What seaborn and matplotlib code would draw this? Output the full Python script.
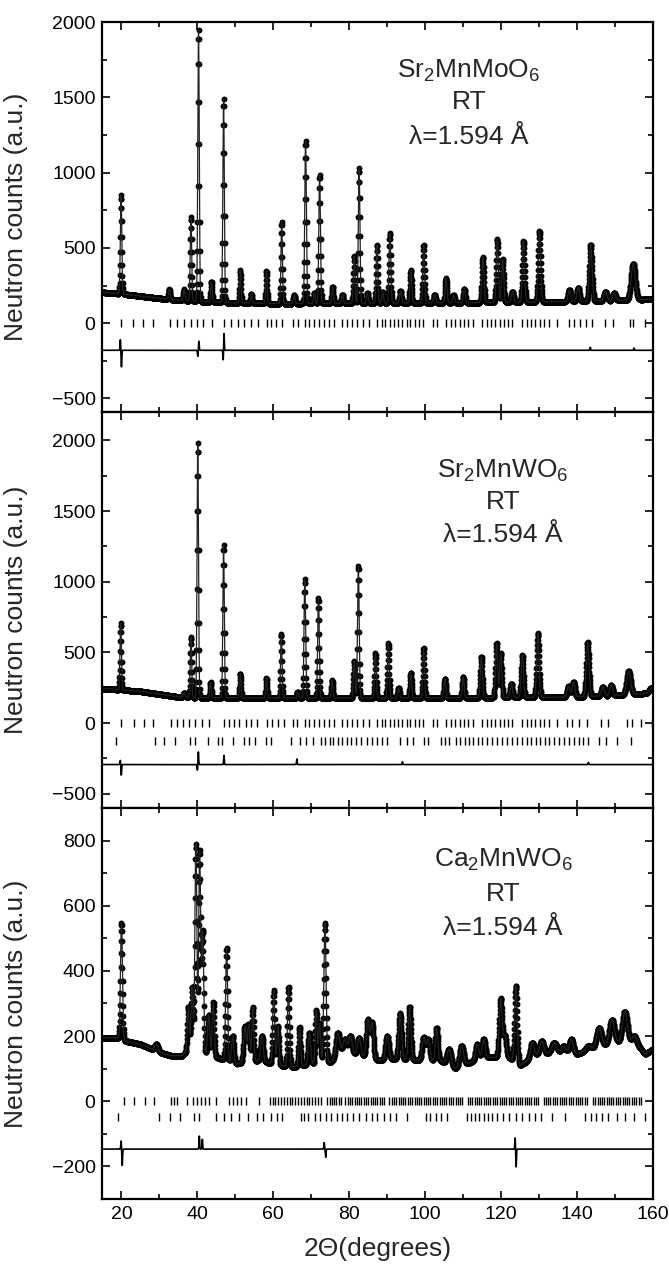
import numpy as np
import pandas as pd
import matplotlib
matplotlib.use("Agg")
import matplotlib.pyplot as plt
import seaborn as sns
from matplotlib.ticker import MultipleLocator

# ---------------- Sr2MnMoO6 ----------------
mo_bg_pos = [15, 20, 25, 30, 35, 40, 50, 60, 80, 100, 120, 140, 150, 160]
mo_bg_val = [205, 195, 180, 165, 152, 145, 135, 130, 132, 135, 138, 145, 150, 160]
mo_peak_pos = [19.9, 32.6, 36.5, 38.3, 40.3, 43.7, 46.9, 51.3, 54.2, 58.2, 62.2, 65.5, 68.5,
               70.8, 72.2, 75.6, 78.2, 81.3, 82.6, 84.8, 87.3, 88.8, 90.7, 93.5, 96.2, 99.6,
               102.5, 105.5, 107.5, 110.3, 115.2, 119.0, 120.4, 123.0, 125.9, 130.1, 138.0,
               140.3, 143.6, 147.5, 149.8, 154.8]
mo_peak_top = [850, 225, 225, 705, 1950, 275, 1490, 350, 195, 345, 670, 190, 1210,
               200, 985, 240, 190, 445, 1030, 200, 520, 210, 598, 215, 350, 520,
               190, 297, 185, 228, 440, 562, 427, 210, 548, 612, 222,
               236, 522, 210, 200, 395]
mo_peak_fwhm = [0.45, 0.5, 0.5, 0.45, 0.45, 0.45, 0.45, 0.45, 0.45, 0.45, 0.45, 0.5, 0.5,
                0.5, 0.5, 0.5, 0.5, 0.5, 0.5, 0.5, 0.5, 0.5, 0.55, 0.55, 0.55, 0.55,
                0.6, 0.6, 0.6, 0.6, 0.65, 0.65, 0.65, 0.7, 0.7, 0.75, 0.8,
                0.8, 0.85, 0.9, 0.9, 1.3]
mo_bragg = [19.9, 23.1, 25.8, 28.4, 32.8, 34.7, 36.5, 38.3, 39.8, 41.6, 43.8, 47.1, 48.8,
            50.6, 52.3, 54.1, 55.9, 58.3, 59.4, 60.7, 62.3, 65.1, 66.4, 68.4, 69.5, 70.8,
            72.1, 73.3, 74.6, 75.9, 78.1, 79.4, 80.8, 82.1, 83.6, 85.1, 87.3, 88.5, 89.5,
            90.7, 91.7, 92.9, 93.9, 95.1, 96.1, 97.3, 98.3, 99.5, 102.0, 103.2, 105.6,
            106.8, 107.9, 109.1, 110.2, 111.4, 112.5, 115.0, 116.2, 117.3, 118.5, 119.6,
            120.8, 121.9, 123.0, 125.6, 126.7, 127.9, 129.0, 130.2, 131.3, 132.6, 134.8,
            137.9, 139.2, 140.7, 142.3, 143.9, 147.4, 149.5, 154.0, 154.8, 158.0]
mo_diff_level = -180
mo_diff_pos = [19.7, 20.0, 40.1, 40.4, 46.8, 47.0, 143.5, 155.0]
mo_diff_amp = [70, -110, -40, 60, -70, 115, 20, 15]

# ---------------- Sr2MnWO6 ----------------
w_bg_pos = [15, 20, 25, 30, 35, 40, 60, 100, 140, 150, 160]
w_bg_val = [245, 235, 225, 205, 185, 180, 178, 178, 185, 195, 215]
w_peak_pos = [19.8, 36.5, 38.3, 40.1, 43.5, 46.9, 51.3, 58.2, 62.1, 66.4, 68.3, 71.9, 75.5,
              81.3, 82.4, 86.9, 90.3, 93.0, 96.2, 99.6, 105.2, 110.0, 114.8, 118.8, 119.9,
              122.7, 125.6, 129.7, 137.8, 139.1, 142.8, 146.8, 149.0, 153.6, 159.6]
w_peak_top = [705, 215, 612, 1980, 290, 1260, 350, 320, 631, 220, 1017, 886, 302,
              440, 1112, 493, 564, 250, 357, 529, 314, 326, 469, 564, 493,
              279, 481, 636, 260, 290, 571, 255, 267, 367, 250]
w_peak_fwhm = [0.45, 0.5, 0.45, 0.45, 0.45, 0.45, 0.45, 0.45, 0.45, 0.5, 0.5, 0.5, 0.5,
               0.5, 0.5, 0.5, 0.55, 0.55, 0.55, 0.55, 0.6, 0.6, 0.65, 0.65, 0.65,
               0.7, 0.7, 0.75, 0.9, 0.8, 0.85, 0.9, 0.9, 1.2, 1.2]
w_bragg_main = [19.8, 23.2, 26.0, 28.2, 33.0, 34.5, 36.1, 37.8, 39.5, 41.2, 43.1, 46.9, 48.2,
                49.7, 51.0, 52.7, 54.2, 55.6, 58.4, 59.7, 61.2, 62.7, 65.2, 66.3, 68.4, 69.5,
                70.8, 72.1, 73.3, 74.6, 75.9, 78.1, 79.4, 80.8, 82.1, 83.6, 85.1, 87.3, 88.5,
                89.5, 90.7, 91.7, 92.9, 93.9, 95.1, 96.1, 97.3, 98.3, 99.5, 102.0, 103.2,
                105.6, 106.8, 107.9, 109.1, 110.2, 111.4, 112.5, 115.0, 116.2, 117.3, 118.5,
                119.6, 120.8, 121.9, 123.0, 125.6, 126.7, 127.9, 129.0, 130.2, 131.3, 132.6,
                134.8, 137.4, 138.8, 140.4, 142.5, 146.4, 148.1, 153.2, 154.4, 156.8, 159.8]
w_bragg_second = [18.5, 28.8, 31.3, 34.1, 38.1, 39.5, 42.9, 45.4, 46.5, 49.4, 52.2, 53.5, 55.3,
                  58.0, 59.5, 64.6, 66.9, 68.5, 70.5, 72.5, 73.6, 74.8, 75.7, 77.0, 78.1, 79.3,
                  80.4, 81.8, 83.2, 84.7, 86.0, 87.2, 88.6, 90.0, 93.4, 95.1, 96.8, 99.6, 100.7,
                  104.1, 105.2, 106.4, 108.1, 109.2, 110.4, 111.5, 112.6, 113.8, 115.0, 116.4,
                  117.6, 118.9, 120.2, 121.5, 122.9, 124.3, 125.5, 126.7, 127.9, 129.1, 130.3,
                  131.5, 132.7, 134.0, 135.3, 136.7, 138.0, 139.2, 140.4, 141.6, 143.0, 145.8,
                  147.6, 150.4, 154.1]
w_diff_level = -293
w_diff_pos = [19.7, 19.95, 40.0, 40.25, 47.0, 66.2, 94.0, 143.0]
w_diff_amp = [30, -75, -40, 90, 65, 40, 20, 15]

# ---------------- Ca2MnWO6 ----------------
ca_bg_pos = [15, 19, 21, 25, 28, 30, 33, 36, 38, 45, 50, 56, 62, 65, 68, 75, 80, 88, 92,
             98, 104, 108, 112, 117, 122, 125, 130, 135, 140, 144, 150, 155, 158, 160]
ca_bg_val = [195, 195, 185, 175, 160, 150, 140, 140, 160, 135, 115, 125, 110, 105, 110, 120,
             150, 125, 130, 125, 125, 100, 120, 135, 135, 110, 145, 150, 145, 160, 180, 185,
             145, 160]
ca_peak_pos = [20.0, 29.2, 37.6, 38.6, 39.6, 40.6, 41.4, 43.0, 44.2, 47.7, 49.3, 52.5, 53.5,
               54.6, 57.0, 60.1, 61.2, 64.0, 66.9, 69.5, 71.3, 72.2, 73.6, 77.0, 78.8, 80.3,
               82.6, 84.9, 86.0, 90.0, 93.4, 95.9, 99.6, 100.8, 103.0, 106.3, 109.6, 113.7,
               115.4, 119.9, 121.0, 123.9, 128.2, 130.7, 134.0, 136.5, 138.5, 143.0, 145.8,
               149.2, 152.6, 155.2]
ca_peak_top = [548, 175, 290, 350, 790, 767, 520, 265, 305, 470, 200, 230, 235,
               290, 200, 340, 230, 352, 228, 210, 280, 240, 548, 210, 190, 200,
               195, 250, 240, 200, 270, 290, 195, 190, 225, 160, 170, 175,
               190, 315, 200, 355, 180, 185, 180, 170, 190, 170, 225,
               250, 275, 200]
ca_peak_fwhm = [0.6, 1.0, 0.6, 0.6, 0.6, 0.6, 0.6, 0.7, 0.6, 0.6, 0.7, 0.8, 0.7,
                0.6, 0.8, 0.6, 0.6, 0.6, 0.6, 0.8, 0.6, 0.6, 0.7, 1.2, 1.2, 1.0,
                1.0, 0.9, 0.9, 1.0, 0.9, 0.8, 1.0, 1.0, 0.8, 1.2, 1.2, 1.0,
                1.0, 0.9, 0.9, 0.8, 1.2, 1.2, 1.5, 1.2, 1.2, 1.5, 1.5,
                1.5, 1.5, 1.2]
ca_bragg_main = [20.6, 23.4, 26.2, 28.7, 33.0, 33.8, 34.7, 37.2, 38.9, 40.0, 40.9, 42.0, 43.1,
                 44.8, 48.2, 49.4, 50.5, 51.6, 52.7, 56.1, 59.0, 59.8, 60.5, 61.3, 62.0, 62.8,
                 63.5, 64.3, 65.0, 65.8, 66.5, 67.3, 68.0, 68.8, 69.5, 70.3, 71.0, 71.8, 72.6,
                 74.2, 74.8, 75.4, 76.0, 76.6, 77.2, 77.8, 79.0, 79.6, 80.2, 80.8, 81.4, 82.0,
                 82.6, 83.2, 83.8, 84.4, 85.0, 85.6, 86.2, 86.8, 87.4, 88.0, 88.6, 89.2, 90.6,
                 91.2, 91.8, 92.4, 93.0, 93.6, 94.2, 94.8, 95.4, 96.0, 96.6, 97.2, 97.8, 98.4,
                 99.0, 99.6, 100.2, 100.8, 101.4, 102.0, 102.6, 103.2, 103.8, 104.4, 105.0,
                 105.6, 106.2, 106.8, 107.4, 108.0, 108.6, 109.2, 109.8, 111.2, 111.8, 112.4,
                 113.0, 113.6, 114.2, 114.8, 115.4, 116.0, 116.6, 117.2, 117.8, 118.4, 119.0,
                 119.6, 120.2, 120.8, 121.4, 122.0, 122.6, 123.2, 123.8, 124.4, 125.0, 125.6,
                 126.2, 126.8, 127.4, 128.0, 128.6, 129.2, 129.8, 131.2, 131.8, 132.4, 133.0,
                 133.6, 134.2, 134.8, 135.4, 136.0, 136.6, 137.2, 137.8, 138.4, 139.0, 139.6,
                 140.2, 140.8, 141.4, 142.0, 142.6, 144.2, 144.8, 145.4, 146.0, 146.6, 147.2,
                 147.8, 148.4, 149.0, 149.6, 150.2, 150.8, 151.4, 152.0, 152.6, 153.2, 153.8,
                 154.4, 155.0, 155.6, 156.2, 156.8]
ca_bragg_second = [19.2, 29.8, 32.8, 35.5, 39.2, 40.3, 44.8, 46.9, 48.8, 51.0, 53.3, 55.6, 57.3,
                   59.5, 61.0, 62.3, 67.4, 68.2, 69.1, 71.1, 72.3, 73.9, 75.3, 76.7, 78.1, 79.5,
                   81.0, 82.7, 84.4, 86.0, 87.4, 89.2, 90.8, 92.3, 95.1, 100.2, 101.3, 102.8,
                   104.1, 105.8, 110.9, 112.0, 113.1, 114.3, 115.4, 116.5, 117.7, 119.0, 120.5,
                   122.2, 123.9, 125.6, 127.3, 129.0, 130.6, 133.5, 136.9, 142.0, 143.7, 145.0,
                   146.5, 148.2, 150.4, 152.7, 155.0, 157.8]
ca_diff_level = -147
ca_diff_pos = [19.9, 20.2, 40.5, 41.3, 73.4, 73.8, 123.7, 123.95]
ca_diff_amp = [25, -50, 40, 30, 20, -25, 35, -55]

two_theta = np.arange(15, 160.001, 0.05)


def gauss(p, w):
    return np.exp(-4 * np.log(2) * (two_theta - p) ** 2 / w ** 2)


def build(bg_pos, bg_val, pos, top, fwhm, diff_level, diff_pos, diff_amp):
    bg = np.interp(two_theta, bg_pos, bg_val)
    obs = bg.copy()
    for p, t, w in zip(pos, top, fwhm):
        obs += (t - np.interp(p, bg_pos, bg_val)) * gauss(p, w)
    diff = np.full_like(two_theta, float(diff_level))
    for p, a in zip(diff_pos, diff_amp):
        diff += a * gauss(p, 0.2)
    return pd.DataFrame({"two_theta": two_theta, "counts": obs, "diff": diff})


panels = [
    dict(df=build(mo_bg_pos, mo_bg_val, mo_peak_pos, mo_peak_top, mo_peak_fwhm,
                  mo_diff_level, mo_diff_pos, mo_diff_amp),
         bragg=[(mo_bragg, 0)],
         name="Sr$_2$MnMoO$_6$", ylim=(-590, 2000), major=500, minor=250,
         tx=0.666, ty=[0.858, 0.776, 0.687]),
    dict(df=build(w_bg_pos, w_bg_val, w_peak_pos, w_peak_top, w_peak_fwhm,
                  w_diff_level, w_diff_pos, w_diff_amp),
         bragg=[(w_bragg_main, 0), (w_bragg_second, -128)],
         name="Sr$_2$MnWO$_6$", ylim=(-600, 2200), major=500, minor=250,
         tx=0.7275, ty=[0.835, 0.754, 0.673]),
    dict(df=build(ca_bg_pos, ca_bg_val, ca_peak_pos, ca_peak_top, ca_peak_fwhm,
                  ca_diff_level, ca_diff_pos, ca_diff_amp),
         bragg=[(ca_bragg_main, 0), (ca_bragg_second, -48)],
         name="Ca$_2$MnWO$_6$", ylim=(-300, 900), major=200, minor=100,
         tx=0.7275, ty=[0.850, 0.761, 0.674]),
]

sns.set_style("ticks")
plt.rcParams["font.family"] = ["Liberation Sans", "DejaVu Sans"]
plt.rcParams["mathtext.fontset"] = "custom"
plt.rcParams["mathtext.rm"] = "Liberation Sans"
plt.rcParams["mathtext.default"] = "regular"

fig, axes = plt.subplots(3, 1, figsize=(6.69, 12.67), dpi=100, sharex=True,
                         gridspec_kw=dict(hspace=0, height_ratios=[390, 396, 391]))
fig.subplots_adjust(left=0.1532, right=0.976, top=0.9826, bottom=0.0537)

for ax, pan in zip(axes, panels):
    df = pan["df"]
    sns.lineplot(data=df, x="two_theta", y="counts", ax=ax, color="#222222", lw=0.9,
                 estimator=None, sort=False)
    sns.scatterplot(data=df, x="two_theta", y="counts", ax=ax, color="black", s=18,
                    linewidth=0)
    sns.lineplot(data=df, x="two_theta", y="diff", ax=ax, color="black", lw=1.2,
                 estimator=None, sort=False)
    for ticks, level in pan["bragg"]:
        sns.scatterplot(x=ticks, y=[level] * len(ticks), ax=ax, marker="|", s=30,
                        linewidth=1.0, color="black")

    ax.set_xlim(15, 160)
    ax.set_ylim(*pan["ylim"])
    ax.xaxis.set_major_locator(MultipleLocator(20))
    ax.xaxis.set_minor_locator(MultipleLocator(10))
    ax.yaxis.set_major_locator(MultipleLocator(pan["major"]))
    ax.yaxis.set_minor_locator(MultipleLocator(pan["minor"]))
    ax.tick_params(which="both", direction="in", top=True, right=True, width=1.2,
                   labelsize=14, pad=5, colors="black")
    ax.tick_params(which="major", length=5.5)
    ax.tick_params(which="minor", length=3.5)
    for sp in ax.spines.values():
        sp.set_linewidth(1.6)
        sp.set_color("black")
    ax.set_ylabel("Neutron counts (a.u.)", fontsize=19)
    ax.yaxis.set_label_coords(-0.135, 0.5)
    ax.set_xlabel("")

    for line, y in zip([pan["name"], "RT", "λ=1.594 Å"], pan["ty"]):
        ax.text(pan["tx"], y, line, transform=ax.transAxes, ha="center", va="baseline",
                fontsize=19)

axes[-1].set_xlabel("2Θ(degrees)", fontsize=19, labelpad=10)

fig.savefig("out.png", dpi=100)
